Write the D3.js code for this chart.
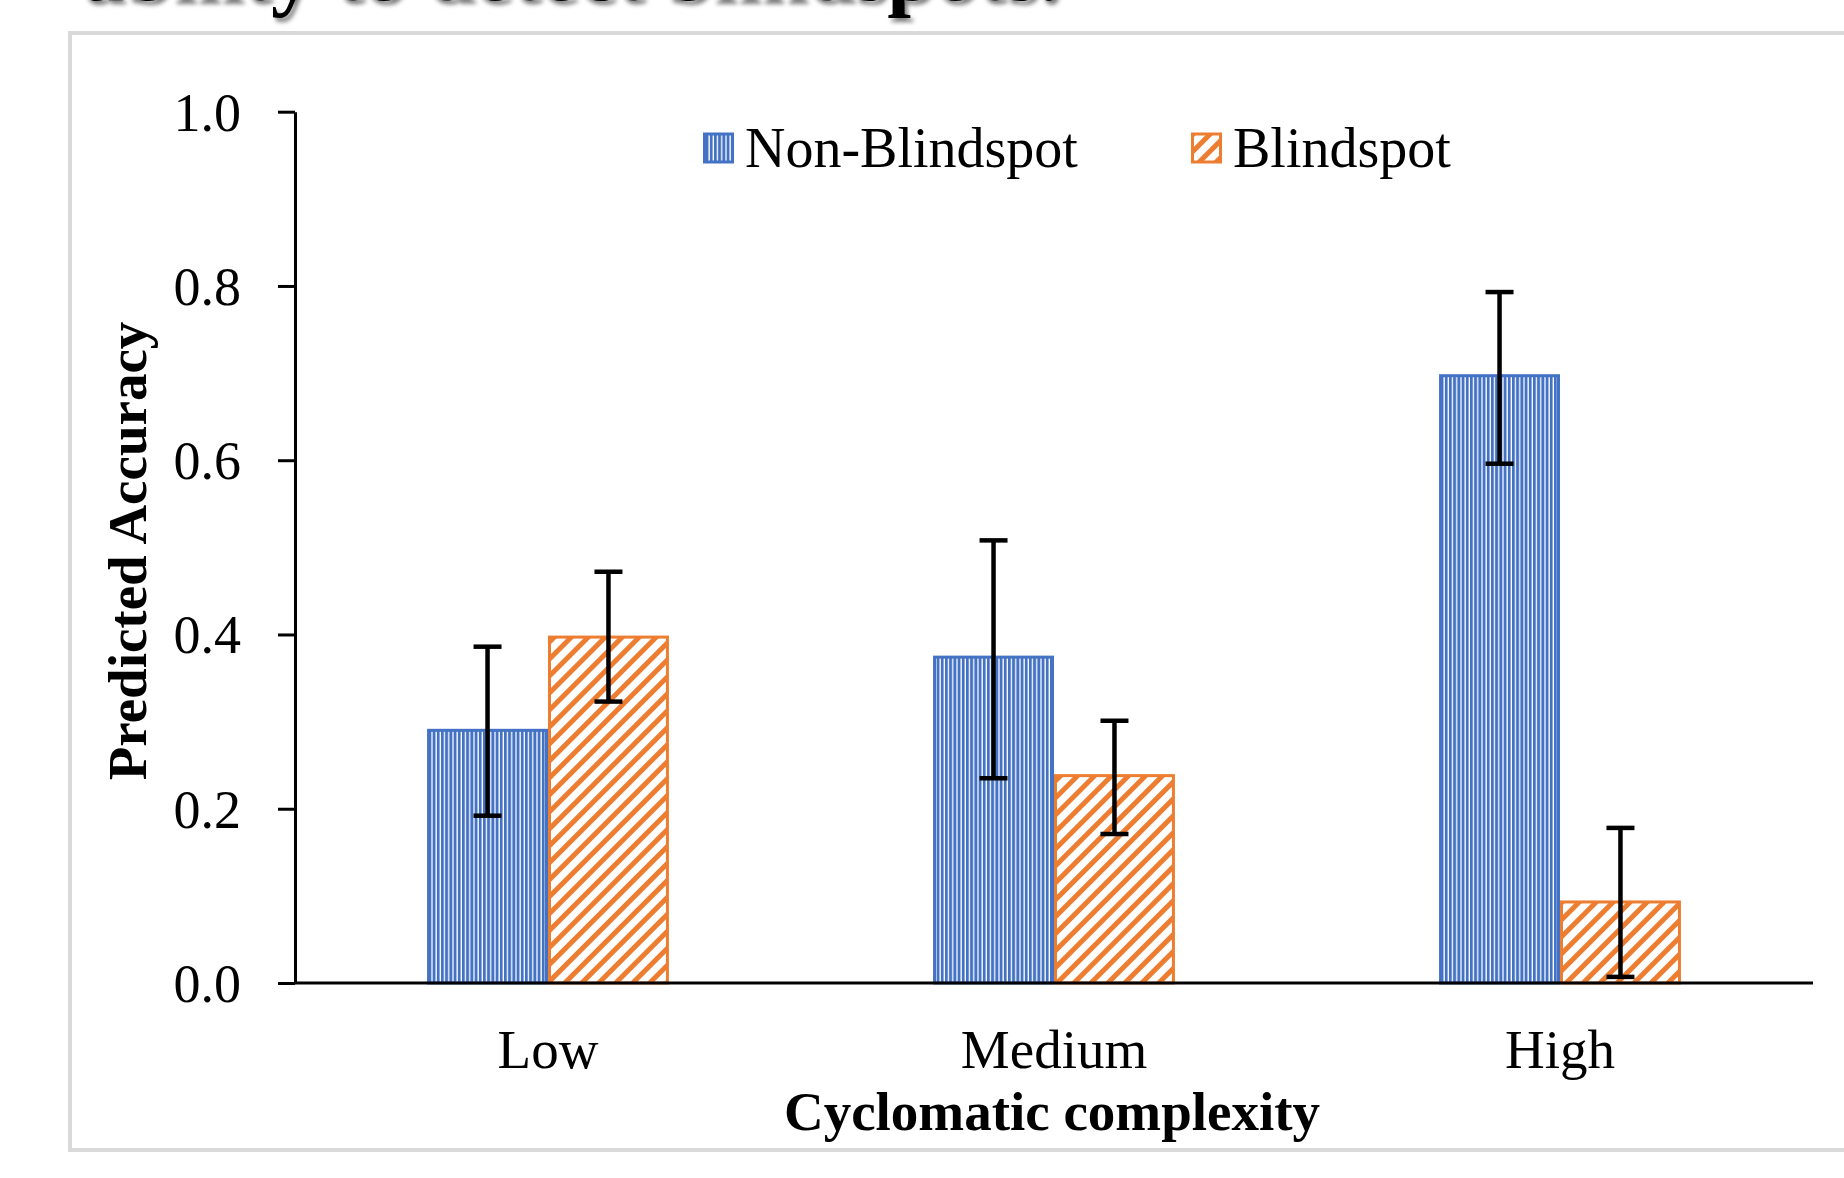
<!DOCTYPE html>
<html>
<head>
<meta charset="utf-8">
<script src="https://cdn.jsdelivr.net/npm/d3@7"></script>
<style>
  html, body { margin: 0; padding: 0; background: #ffffff; overflow: hidden; }
  svg { display: block; }
  text { font-family: "Liberation Serif", "Times New Roman", "DejaVu Serif", serif; fill: #000; }
</style>
</head>
<body>
<svg id="chart" width="1844" height="1178"></svg>
<script>
// ---- data ----
const categories = ["Low", "Medium", "High"];
const seriesNames = ["Non-Blindspot", "Blindspot"];
const nonBlindspot = [0.290, 0.374, 0.697];
const blindspot = [0.397, 0.238, 0.093];
const nonBlindspotLower = [0.192, 0.235, 0.596];
const nonBlindspotUpper = [0.386, 0.508, 0.793];
const blindspotLower = [0.323, 0.171, 0.007];
const blindspotUpper = [0.472, 0.301, 0.178];
const yTicks = [0.0, 0.2, 0.4, 0.6, 0.8, 1.0];
const titleText = "ability to detect blindspots.";
const yAxisTitle = "Predicted Accuracy";
const xAxisTitle = "Cyclomatic complexity";

const colors = { "Non-Blindspot": "#4472C4", "Blindspot": "#ED7D31" };

const svg = d3.select("#chart");
const defs = svg.append("defs");

// vertical narrow stripes for Non-Blindspot
const pBlue = defs.append("pattern")
  .attr("id", "pat-blue").attr("patternUnits", "userSpaceOnUse")
  .attr("width", 4.2).attr("height", 10);
pBlue.append("rect").attr("width", 4.2).attr("height", 10).attr("fill", "#ffffff");
pBlue.append("rect").attr("width", 2.9).attr("height", 10).attr("fill", colors["Non-Blindspot"]);

// wide upward diagonal for Blindspot
const pOr = defs.append("pattern")
  .attr("id", "pat-orange").attr("patternUnits", "userSpaceOnUse")
  .attr("width", 12).attr("height", 12)
  .attr("patternTransform", "rotate(45)");
pOr.append("rect").attr("width", 12).attr("height", 12).attr("fill", "#ffffff");
pOr.append("rect").attr("width", 5).attr("height", 12).attr("fill", colors["Blindspot"]);

const patterns = { "Non-Blindspot": "url(#pat-blue)", "Blindspot": "url(#pat-orange)" };

// cut-off slide title above the frame (partially visible in the reference)
svg.append("text")
  .attr("x", 82).attr("y", 0)
  .attr("font-size", 85).attr("font-weight", "bold")
  .style("text-shadow", "3px 4px 4px rgba(0,0,0,0.5)")
  .text(titleText);

// frame
svg.append("rect")
  .attr("x", 70).attr("y", 33).attr("width", 1840).attr("height", 1117)
  .attr("fill", "#ffffff").attr("stroke", "#d9d9d9").attr("stroke-width", 4);

// scales
const x0 = d3.scaleBand().domain(categories).range([295, 1813])
  .paddingInner(0.522).paddingOuter(0.261);
const x1 = d3.scaleBand().domain(seriesNames).range([0, x0.bandwidth()]);
const y = d3.scaleLinear().domain([0, 1]).range([983, 111.7]);

const values = { "Non-Blindspot": nonBlindspot, "Blindspot": blindspot };
const lowers = { "Non-Blindspot": nonBlindspotLower, "Blindspot": blindspotLower };
const uppers = { "Non-Blindspot": nonBlindspotUpper, "Blindspot": blindspotUpper };

const rows = [];
categories.forEach((c, i) => {
  seriesNames.forEach(s => {
    rows.push({ cat: c, s: s, v: values[s][i], lo: lowers[s][i], hi: uppers[s][i] });
  });
});

// bars
svg.append("g").selectAll("rect").data(rows).join("rect")
  .attr("x", d => x0(d.cat) + x1(d.s) + 1.5)
  .attr("y", d => y(d.v))
  .attr("width", x1.bandwidth() - 3)
  .attr("height", d => y(0) - y(d.v))
  .attr("fill", d => patterns[d.s])
  .attr("stroke", d => colors[d.s])
  .attr("stroke-width", 3);

// y axis
const yAxis = d3.axisLeft(y).tickValues(yTicks).tickFormat(d3.format(".1f"))
  .tickSize(17).tickSizeOuter(0).tickPadding(37);
const gy = svg.append("g").attr("transform", "translate(295,0)").call(yAxis);
gy.select(".domain").attr("stroke", "#000").attr("stroke-width", 3);
gy.selectAll(".tick line").attr("stroke", "#000").attr("stroke-width", 3);
gy.selectAll(".tick text")
  .attr("font-family", "'Liberation Serif', 'Times New Roman', serif")
  .attr("font-size", 54).attr("fill", "#000").attr("dy", "0.34em");

// x axis (baseline, no ticks)
const xAxis = d3.axisBottom(x0).tickSize(0).tickSizeOuter(0).tickPadding(0);
const gx = svg.append("g").attr("transform", `translate(0,${y(0)})`).call(xAxis);
gx.select(".domain").attr("stroke", "#000").attr("stroke-width", 3)
  .attr("d", "M295,0H1813");
gx.selectAll(".tick text")
  .attr("font-family", "'Liberation Serif', 'Times New Roman', serif")
  .attr("font-size", 55).attr("fill", "#000")
  .attr("y", 85).attr("dy", 0);

// error bars
const eb = svg.append("g").attr("stroke", "#000").attr("stroke-width", 4.5).attr("fill", "none");
rows.forEach(d => {
  const cx = x0(d.cat) + x1(d.s) + x1.bandwidth() / 2;
  eb.append("line").attr("x1", cx).attr("x2", cx).attr("y1", y(d.lo)).attr("y2", y(d.hi));
  eb.append("line").attr("x1", cx - 14).attr("x2", cx + 14).attr("y1", y(d.lo)).attr("y2", y(d.lo));
  eb.append("line").attr("x1", cx - 14).attr("x2", cx + 14).attr("y1", y(d.hi)).attr("y2", y(d.hi));
});

// axis titles
svg.append("text")
  .attr("x", 1052).attr("y", 1130)
  .attr("text-anchor", "middle").attr("font-size", 55).attr("font-weight", "bold")
  .text(xAxisTitle);
svg.append("text")
  .attr("transform", "translate(146,551) rotate(-90)")
  .attr("text-anchor", "middle").attr("font-size", 55).attr("font-weight", "bold")
  .text(yAxisTitle);

// legend
const legendX = [703, 1191];
const lg = svg.append("g");
seriesNames.forEach((s, i) => {
  lg.append("rect")
    .attr("x", legendX[i] + 1.5).attr("y", 134).attr("width", 28).attr("height", 28)
    .attr("fill", patterns[s]).attr("stroke", colors[s]).attr("stroke-width", 3);
  lg.append("text")
    .attr("x", legendX[i] + 42).attr("y", 167)
    .attr("font-size", 56).text(s);
});
</script>
</body>
</html>
